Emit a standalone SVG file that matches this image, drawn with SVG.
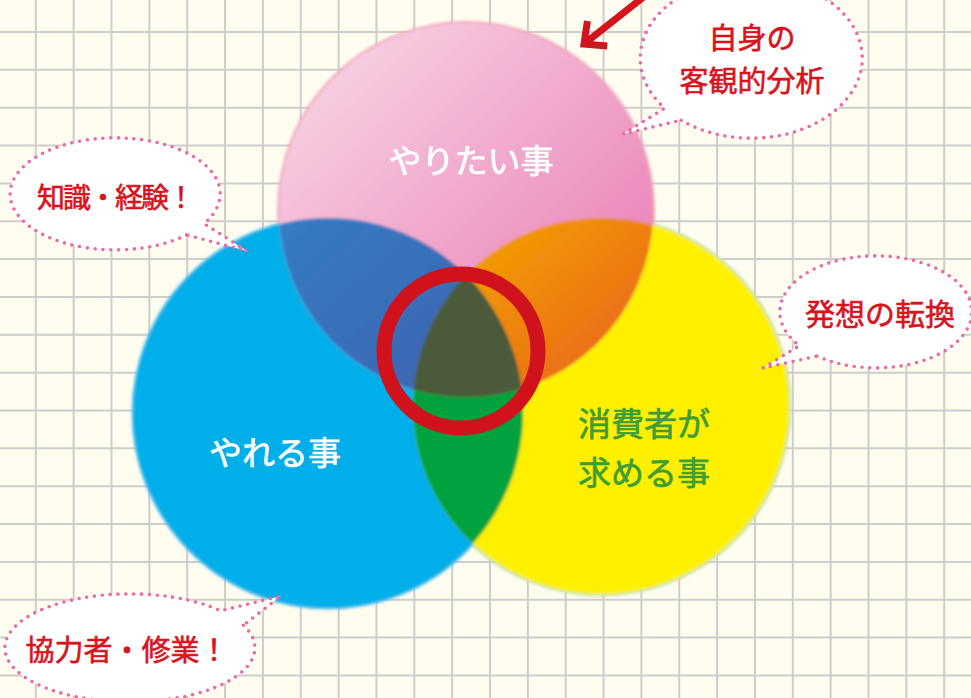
<svg xmlns="http://www.w3.org/2000/svg" width="971" height="698" viewBox="0 0 971 698">
<style>
.grid{fill:none;stroke:#cdcdcd;stroke-width:2}
.bubble{fill:#ffffff;stroke:#ec69a6;stroke-width:3.6;stroke-dasharray:0 7.8;stroke-linecap:round;stroke-linejoin:round}
.ctext{font-family:"Noto Sans CJK JP","Noto Sans",sans-serif;font-weight:400;fill:#d7141e;stroke:#d7141e;stroke-width:0.6;text-anchor:middle}
.ltext{font-family:"Noto Sans CJK JP","Noto Sans",sans-serif;font-weight:400;text-anchor:middle;font-size:33px;stroke-width:0.7}
.arrow{fill:none;stroke:#d2141e;stroke-width:7}
</style>
<defs>
<linearGradient id="gPink" gradientUnits="userSpaceOnUse" x1="310" y1="60" x2="630" y2="390">
<stop offset="0" stop-color="#f7d2e3"/><stop offset="0.5" stop-color="#f0a3ca"/><stop offset="1" stop-color="#e874ae"/>
</linearGradient>
<linearGradient id="gOrange" gradientUnits="userSpaceOnUse" x1="480" y1="240" x2="620" y2="400">
<stop offset="0" stop-color="#f39d00"/><stop offset="1" stop-color="#e7611d"/>
</linearGradient>
<linearGradient id="gDBlue" gradientUnits="userSpaceOnUse" x1="290" y1="220" x2="440" y2="390">
<stop offset="0" stop-color="#347cc2"/><stop offset="1" stop-color="#3d64b2"/>
</linearGradient>
<clipPath id="cpPink"><circle cx="466" cy="210" r="187"/></clipPath>
<clipPath id="cpBlue"><circle cx="328" cy="413" r="195"/></clipPath>
<clipPath id="cpYellow"><circle cx="601" cy="406" r="188"/></clipPath>
<filter id="soft" x="-10%" y="-10%" width="120%" height="120%"><feGaussianBlur stdDeviation="1.4"/></filter>
<marker id="chev" markerUnits="userSpaceOnUse" markerWidth="40" markerHeight="40" refX="20" refY="20" orient="auto" overflow="visible">
<path d="M3,4 L20,20 L3,36" fill="none" stroke="#d2141e" stroke-width="7"/>
</marker>
</defs>
<rect width="971" height="698" fill="#fffdf0"/>
<path class="grid" d="M35.8 0V698M73.65 0V698M111.5 0V698M149.35 0V698M187.2 0V698M225.05 0V698M262.9 0V698M300.75 0V698M338.6 0V698M376.45 0V698M414.3 0V698M452.15 0V698M490 0V698M527.85 0V698M565.7 0V698M603.55 0V698M641.4 0V698M679.25 0V698M717.1 0V698M754.95 0V698M792.8 0V698M830.65 0V698M868.5 0V698M906.35 0V698M944.2 0V698M0 32H971M0 69.85H971M0 107.7H971M0 145.55H971M0 183.4H971M0 221.25H971M0 259.1H971M0 296.95H971M0 334.8H971M0 372.65H971M0 410.5H971M0 448.35H971M0 486.2H971M0 524.05H971M0 561.9H971M0 599.75H971M0 637.6H971M0 675.45H971"/>

<g id="circles" filter="url(#soft)">
<circle cx="466" cy="210" r="187" fill="none" stroke="#f2a4b4" stroke-width="4"/>
<circle cx="601" cy="406" r="188" fill="none" stroke="#c4e2a8" stroke-width="5"/>
<circle cx="328" cy="413" r="195" fill="none" stroke="#5fc4ee" stroke-width="3"/>
<g id="can"><circle cx="328" cy="413" r="195" fill="#00aeea"/></g>
<g id="demand"><circle cx="601" cy="406" r="188" fill="#fff000"/></g>
<g id="want"><circle cx="466" cy="210" r="187" fill="url(#gPink)"/></g>
<circle cx="328" cy="413" r="195" fill="url(#gDBlue)" clip-path="url(#cpPink)"/>
<circle cx="601" cy="406" r="188" fill="url(#gOrange)" clip-path="url(#cpPink)"/>
<circle cx="328" cy="413" r="195" fill="#00a23e" clip-path="url(#cpYellow)"/>
<g clip-path="url(#cpPink)"><circle cx="328" cy="413" r="195" fill="#4b5a3a" clip-path="url(#cpYellow)"/></g>
</g>

<g id="labels">
<text class="ltext" x="471" y="173" fill="#ffffff" stroke="#ffffff">やりたい事</text>
<text class="ltext" x="275" y="465" fill="#ffffff" stroke="#ffffff">やれる事</text>
<text class="ltext" x="644" y="436" fill="#3c9e33" stroke="#3c9e33">消費者が</text>
<text class="ltext" x="644" y="485" fill="#3c9e33" stroke="#3c9e33">求める事</text>
</g>

<g id="focus-ring"><circle cx="461" cy="351" r="77" fill="none" stroke="#d0121c" stroke-width="15"/></g>

<g id="connectors">
<path class="arrow" d="M646,-5 L584,44" marker-end="url(#chev)"/>
</g>

<g id="callout-self">
<path class="bubble" d="M681.1,120.2 A111,80 0 1 0 664.7,108.3 L623,134 Z"/>
<text class="ctext" x="752" y="49" font-size="29">自身の</text>
<text class="ctext" x="752" y="92" font-size="29">客観的分析</text>
</g>
<g id="callout-knowledge">
<path class="bubble" d="M186.6,234.9 A105,56 0 1 1 204,223.7 L247,251 Z"/>
<text class="ctext" x="116" y="208" font-size="28" textLength="158" lengthAdjust="spacing">知識・経験！</text>
</g>
<g id="callout-idea">
<path class="bubble" d="M816.9,356.1 A96,56 0 1 0 799.3,345.7 L763,368 Z"/>
<text class="ctext" x="880" y="325" font-size="30">発想の転換</text>
</g>
<g id="callout-partner">
<path class="bubble" d="M243.3,625.2 A125,54 0 1 1 220.7,610.8 L281,596 Z"/>
<text class="ctext" x="127" y="661" font-size="29">協力者・修業！</text>
</g>
</svg>
